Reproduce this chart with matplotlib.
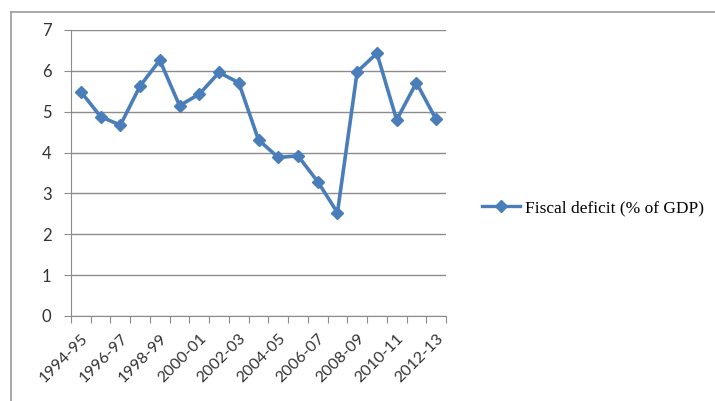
import matplotlib.pyplot as plt
from matplotlib.lines import Line2D

# 数据
years = ['1994-95', '1995-96', '1996-97', '1997-98', '1998-99', '1999-00',
         '2000-01', '2001-02', '2002-03', '2003-04', '2004-05', '2005-06',
         '2006-07', '2007-08', '2008-09', '2009-10', '2010-11', '2011-12',
         '2012-13']
deficit = [5.49, 4.88, 4.67, 5.63, 6.26, 5.15, 5.43, 5.96, 5.71, 4.31,
           3.88, 3.92, 3.29, 2.53, 5.98, 6.43, 4.80, 5.71, 4.81]

blue = '#4A7EBB'
grey = '#8C8C8C'

fig = plt.figure(figsize=(7.15, 4.01), dpi=100)
ax = fig.add_axes([71 / 715, 1 - 316 / 401, 375 / 715, 286 / 401])

x = list(range(len(years)))
ax.plot(x, deficit, color=blue, lw=2.6, marker='D', markersize=6.5,
        label='Fiscal deficit (% of GDP)')

ax.set_xlim(-0.5, len(years) - 0.5)
ax.set_ylim(0, 7)
ax.set_yticks(range(8))
ax.yaxis.grid(True, color=grey, lw=1)
ax.set_axisbelow(True)

# x 轴刻度在类别之间
ax.set_xticks([i - 0.5 for i in range(len(years) + 1)], minor=False)
ax.set_xticklabels([])
ax.set_xticks(x[::2], minor=True)
ax.set_xticklabels(years[::2], minor=True, rotation=45, ha='right',
                   rotation_mode='anchor', fontsize=11.5, color='#333333',
                   family='Lato')
ax.tick_params(axis='x', which='major', length=5, color=grey, direction='out')
ax.tick_params(axis='x', which='minor', length=0, pad=11)
ax.tick_params(axis='y', length=5, color=grey, labelsize=12, labelcolor='#333333', pad=9)
for t in ax.get_yticklabels():
    t.set_family('Lato')

for s in ['top', 'right']:
    ax.spines[s].set_visible(False)
ax.spines['left'].set_color(grey)
ax.spines['bottom'].set_color(grey)

handle = Line2D([], [], color=blue, lw=2.4, marker='D', markersize=6)
fig.legend([handle], ['Fiscal deficit (% of GDP)'], loc='center left',
           bbox_to_anchor=(466 / 715, 1 - 208 / 401), frameon=False,
           handlelength=2.2, handletextpad=0.3,
           prop={'family': 'Liberation Serif', 'size': 12.5})

# 外框
fig.add_artist(Line2D([11 / 715, 11 / 715], [0, 1 - 12 / 401], color='#999999', lw=1.2))
fig.add_artist(Line2D([11 / 715, 1], [1 - 12 / 401, 1 - 12 / 401], color='#999999', lw=1.2))

fig.savefig('out.png', dpi=100)
